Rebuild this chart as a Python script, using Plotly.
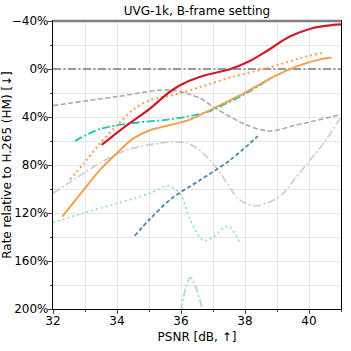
import plotly.graph_objects as go

# PSNR [dB] / rate relative to HM [%] per method
red_x = [33.52, 34.3, 35.03, 35.6, 35.97, 36.6, 37.55, 38.1, 38.68, 39.4, 40.1, 40.75, 41.0]
red_y = [63.3, 47, 33, 20, 13.5, 6.5, 0, -6, -15, -27, -34, -36.7, -37.2]

orange_dot_x = [32.53, 32.95, 33.47, 34.0, 34.5, 35.03, 35.86, 36.6, 37.63, 38.68, 39.72, 40.5]
orange_dot_y = [92, 79, 62, 47, 34, 26, 21, 15, 6.4, -0.6, -9, -14]

orange_x = [32.29, 32.95, 33.47, 34.0, 34.5, 35.03, 35.66, 36.3, 37.0, 38.05, 38.9, 39.6, 40.34, 40.7]
orange_y = [123, 101, 84, 70, 58, 51, 46.7, 42, 33, 19, 6.4, -2, -8, -9.5]

teal_x = [32.69, 33.47, 34.5, 35.66, 36.6, 37.0, 38.05, 38.78]
teal_y = [60, 50, 45, 42, 37.5, 34, 20, 8.3]

gray_dash_x = [32.0, 34.0, 35.66, 36.6, 37.0, 38.05, 38.78, 39.6, 41.0]
gray_dash_y = [30.5, 23, 17.5, 24.4, 31.4, 46.7, 51.7, 46.7, 38]

gray_dd_x = [32.0, 32.95, 33.83, 34.5, 35.66, 36.2, 36.6, 37.1, 37.84, 38.36, 39.1, 39.6, 40.45, 41.0]
gray_dd_y = [103.6, 87, 73, 66, 61, 62, 68, 82, 109, 114, 106, 90, 62, 40]

blue_x = [34.55, 35.03, 35.7, 36.6, 37.53, 38.4]
blue_y = [139, 125, 108, 92.5, 76, 56]

aqua_x = [32.0, 32.95, 34.0, 35.03, 35.6, 35.97, 36.28, 36.7, 37.0, 37.47, 37.84]
aqua_y = [128, 120, 112, 103.6, 97.5, 104, 125, 143, 140, 131, 145]

lblue_x = [36.0, 36.15, 36.3, 36.45, 36.7]
lblue_y = [202, 182, 173.6, 181, 203]

anchor_x = [32.0, 41.0]
anchor_y = [0, 0]

y_ticks = [-40, 0, 40, 80, 120, 160, 200]
y_labels = ["\u221240%", "0%", "40%", "80%", "120%", "160%", "200%"]
x_ticks = [32, 34, 36, 38, 40]

DASH = "5px,2.5px"
DASHDOT = "8px,2.5px,2px,2.5px"
DOT = "2px,3px"

series = [
    (anchor_x, anchor_y, "#999999", DASHDOT, 2),
    (gray_dash_x, gray_dash_y, "#aaaaaa", DASH, 1.6),
    (gray_dd_x, gray_dd_y, "#cccccc", DASHDOT, 1.6),
    (aqua_x, aqua_y, "#86e0c4", DOT, 1.6),
    (lblue_x, lblue_y, "#a8d8e2", DASHDOT, 1.8),
    (blue_x, blue_y, "#4a8aa8", "4px,2.5px", 1.8),
    (teal_x, teal_y, "#1fc8a0", DASHDOT, 1.8),
    (orange_x, orange_y, "#f5a050", "solid", 2),
    (orange_dot_x, orange_dot_y, "#f5a050", DOT, 2),
    (red_x, red_y, "#d01c2a", "solid", 2.2),
]

fig = go.Figure()
for xs, ys, col, dash, w in series:
    fig.add_trace(go.Scatter(x=xs, y=ys, mode="lines",
                             line=dict(color=col, dash=dash, width=w, shape="spline", smoothing=0.9),
                             showlegend=False, hoverinfo="skip"))

fig.update_layout(
    width=351, height=351,
    margin=dict(l=53, r=10, t=21, b=42),
    paper_bgcolor="white", plot_bgcolor="white",
    font=dict(family="DejaVu Sans", size=12, color="black"),
    title=dict(text="UVG-1k, B-frame setting", xref="paper", x=0.5, xanchor="center",
               yref="container", y=1 - 11 / 351, yanchor="middle", font=dict(size=12)),
    xaxis=dict(range=[32, 41], tickvals=x_ticks, ticks="outside", ticklen=4, automargin=False,
               ticklabelstandoff=-4,
               showline=True, linecolor="black", linewidth=1.2, mirror=True,
               showgrid=True, gridcolor="#e6e6e6", gridwidth=1,
               minor=dict(dtick=1, ticks="outside", ticklen=2, showgrid=True, gridcolor="#e6e6e6"),
               title=dict(text="PSNR [dB, \u2191]", font=dict(size=12), standoff=6),
               zeroline=False),
    yaxis=dict(range=[200, -40], tickvals=y_ticks, ticktext=y_labels, ticks="outside", ticklen=4,
               automargin=False, ticklabelstandoff=-3,
               showline=True, linecolor="black", linewidth=1.2, mirror=True,
               showgrid=True, gridcolor="#e6e6e6", gridwidth=1,
               minor=dict(tickvals=[-20, 20, 60, 100, 140, 180], ticks="outside", ticklen=2,
                          showgrid=True, gridcolor="#e6e6e6"),
               title=dict(text="Rate relative to H.265 (HM) [\u2193]", font=dict(size=12), standoff=2),
               zeroline=False),
)
fig.add_shape(type="line", xref="paper", yref="paper", x0=0, x1=1, y0=1, y1=1,
              line=dict(color="#808080", width=2.5))

# the page's default 8px body margin would shift the figure
fig.write_html("out.html", config={"displayModeBar": False},
               post_script="document.body.style.margin='0px';")
